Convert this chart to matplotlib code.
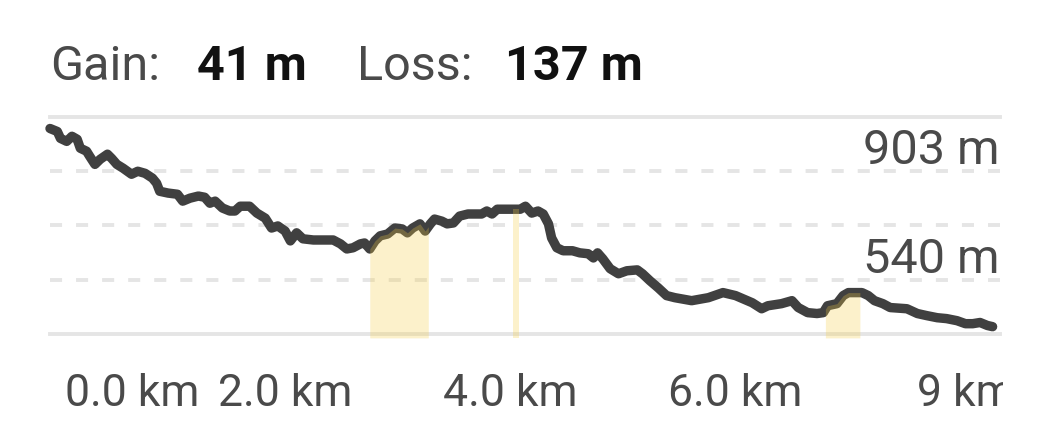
import matplotlib
matplotlib.use("Agg")
import matplotlib.pyplot as plt
import numpy as np
from matplotlib.transforms import Bbox, TransformedBbox

plt.rcParams['font.family'] = ['Roboto', 'DejaVu Sans']

# elevation profile (distance km, elevation m)
distance_km = [0.00, 0.07, 0.10, 0.16, 0.21, 0.26, 0.29, 0.35, 0.38, 0.43,
               0.48, 0.55, 0.59, 0.64, 0.70, 0.78, 0.84, 0.91, 0.98, 1.02,
               1.05, 1.13, 1.22, 1.27, 1.34, 1.42, 1.48, 1.53, 1.58, 1.65,
               1.72, 1.77, 1.82, 1.91, 1.98, 2.06, 2.12, 2.18, 2.25, 2.30,
               2.36, 2.42, 2.52, 2.71, 2.78, 2.84, 2.90, 2.97, 3.01, 3.06,
               3.11, 3.16, 3.23, 3.30, 3.37, 3.42, 3.47, 3.54, 3.59, 3.64,
               3.68, 3.75, 3.80, 3.86, 3.92, 4.00, 4.13, 4.18, 4.23, 4.28,
               4.45, 4.50, 4.55, 4.61, 4.67, 4.72, 4.77, 4.80, 4.85, 4.91,
               5.00, 5.07, 5.15, 5.20, 5.24, 5.29, 5.36, 5.44, 5.52, 5.62,
               5.67, 5.74, 5.82, 5.90, 5.98, 6.14, 6.30, 6.44, 6.56, 6.72,
               6.81, 6.87, 7.00, 7.10, 7.16, 7.25, 7.34, 7.40, 7.44, 7.53,
               7.59, 7.64, 7.77, 7.83, 7.89, 7.97, 8.04, 8.20, 8.30, 8.39,
               8.49, 8.58, 8.68, 8.76, 8.83, 8.90, 8.97, 9.02]
elevation_m = [1046, 1036, 1013, 1003, 1020, 1010, 980, 970, 953, 926,
               943, 960, 946, 926, 913, 893, 903, 896, 880, 863,
               836, 830, 826, 803, 813, 820, 816, 796, 803, 780,
               770, 770, 786, 786, 763, 746, 713, 720, 703, 670,
               697, 677, 673, 673, 660, 643, 647, 660, 663, 643,
               670, 687, 693, 713, 710, 697, 713, 727, 703, 727,
               743, 736, 727, 730, 753, 760, 760, 770, 760, 776,
               776, 776, 786, 763, 770, 760, 727, 680, 647, 637,
               637, 630, 627, 613, 630, 610, 577, 560, 570, 573,
               560, 537, 513, 487, 480, 470, 480, 497, 487, 463,
               443, 453, 460, 470, 447, 430, 427, 430, 453, 460,
               487, 497, 497, 487, 470, 460, 447, 443, 427, 420,
               413, 410, 403, 393, 393, 397, 387, 383]

# climbing stretches highlighted in yellow (start km, end km)
climb_segments = [(3.06, 3.62), (4.43, 4.49), (7.42, 7.75)]

gain_m = 41
loss_m = 137

grid_levels = [1084.5, 903, 721.5, 540, 358.5]
elev_labels = {903: '903 m', 540: '540 m'}

tick_pos_km = [0.79, 2.25, 4.40, 6.56, 8.76]
tick_labels = ['0.0 km', '2.0 km', '4.0 km', '6.0 km', '9 km']

W, H = 1040, 440
fig = plt.figure(figsize=(W / 100, H / 100), dpi=100)
ax = fig.add_axes([50 / W, (H - 334) / H, 950 / W, 217 / H])
ax.set_xlim(0, 950 / 104.5)
ax.set_ylim(grid_levels[-1], grid_levels[0])
for s in ax.spines.values():
    s.set_visible(False)
ax.set_yticks([])

grid_col = '#e5e5e5'
for i, g in enumerate(grid_levels):
    if i == 0 or i == len(grid_levels) - 1:
        ax.axhline(g, color=grid_col, lw=2.8, clip_on=False, zorder=1)
    else:
        ax.axhline(g, color=grid_col, lw=2.8, dashes=(3.1, 3.6), zorder=1)

dist = np.array(distance_km)
elev = np.array(elevation_m)
ax.plot(dist, elev, color='#404040', lw=6.8, solid_joinstyle='round',
        solid_capstyle='round', clip_on=False, zorder=3)

fill_bottom = grid_levels[-1] - 13
for a, b in climb_segments:
    inside = (dist > a) & (dist < b)
    xs = np.concatenate([[a], dist[inside], [b]])
    ys = np.concatenate([[np.interp(a, dist, elev)], elev[inside],
                         [np.interp(b, dist, elev)]])
    ax.fill_between(xs, ys, fill_bottom, color='#f5cd46', alpha=0.28,
                    lw=0, clip_on=False, zorder=4)

for val, lab in elev_labels.items():
    ax.annotate(lab, xy=(1, val), xycoords=('axes fraction', 'data'),
                xytext=(0, 7), textcoords='offset pixels', ha='right',
                va='baseline', fontsize=35, color='#4a4a4a')

ax.set_xticks(tick_pos_km)
ax.set_xticklabels(tick_labels, fontsize=32, color='#4a4a4a')
ax.tick_params(axis='x', length=0, pad=28)
clip = TransformedBbox(Bbox([[0, 0], [1003 / W, 1]]), fig.transFigure)
for t in ax.get_xticklabels():
    t.set_clip_box(clip)
    t.set_clip_on(True)

# header line
base = (H - 80) / H
fig.text(50 / W, base, 'Gain:', fontsize=35, color='#4a4a4a', va='baseline')
fig.text(197 / W, base, f'{gain_m} m', fontsize=35, fontweight='bold',
         color='#111111', va='baseline')
fig.text(357 / W, base, 'Loss:', fontsize=35, color='#4a4a4a', va='baseline')
fig.text(505 / W, base, f'{loss_m} m', fontsize=35, fontweight='bold',
         color='#111111', va='baseline')

fig.savefig('out.png', dpi=100, facecolor='white')
